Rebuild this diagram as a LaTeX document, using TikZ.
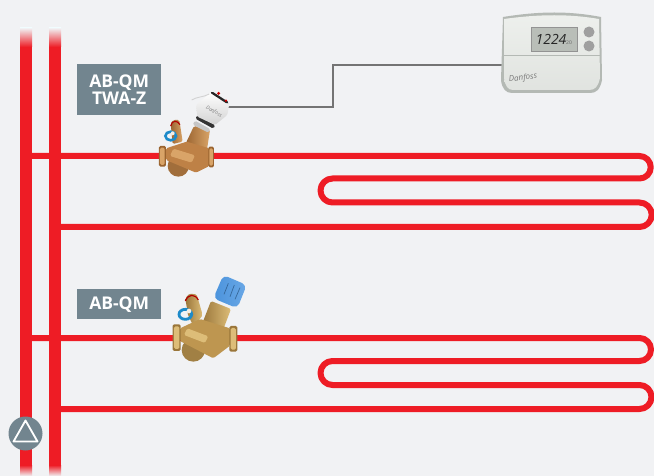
\documentclass[tikz,border=0pt]{standalone}
\usepackage{fontspec}
\setmainfont{Open Sans}
\definecolor{bg}{HTML}{F1F2F4}
\definecolor{pipe}{HTML}{EE1C25}
\definecolor{slate}{HTML}{72858F}
\definecolor{wire}{HTML}{747474}
\definecolor{brz}{HTML}{BE8146}
\definecolor{brzd}{HTML}{9A6430}
\definecolor{brzl}{HTML}{D9A468}
\definecolor{brs}{HTML}{BE9650}
\definecolor{brsd}{HTML}{9A763A}
\definecolor{brsl}{HTML}{DDBD78}
\definecolor{capblue}{HTML}{4B93DC}
\definecolor{capbluel}{HTML}{6AA8E6}
\definecolor{loopblue}{HTML}{1C8AC9}
\definecolor{thbody}{HTML}{E9ECE8}
\definecolor{thedge}{HTML}{B4B9B4}
\definecolor{lcdfill}{HTML}{B9BEB8}
\tikzset{
 main/.style={draw=pipe,line width=12pt},
 loopline/.style={draw=pipe,line width=6pt,line join=round},
 tag/.style={fill=slate,text=white,font=\bfseries\fontsize{17.5}{16.5}\selectfont,align=center,inner sep=0pt,anchor=north west},
 wireline/.style={draw=wire,line width=2.8pt},
 zoomed/.style={x=0.3333pt,y=-0.3333pt,rounded corners=1.5pt},
}
\begin{document}
\begin{tikzpicture}[x=1pt,y=-1pt]
\useasboundingbox (0,0) rectangle (654,476);
\fill[bg] (0,0) rectangle (654,476);
% risers
\foreach \x in {26,55}{
 \shade[top color=bg,bottom color=pipe] (\x-6,28) rectangle (\x+6,47);
 \draw[main] (\x,47) -- (\x,465);
 \shade[top color=pipe,bottom color=bg] (\x-6,465) rectangle (\x+6,476);
}
% serpentines
\coordinate (a1) at (26,156);
\coordinate (a2) at (55,227);
\draw[loopline] (a1) -- (639.5,156) arc[start angle=-90,end angle=90,radius=11.25] -- (332.5,178.5)
  arc[start angle=270,end angle=90,radius=12] -- (639.5,202.5) arc[start angle=-90,end angle=90,radius=12.25] -- (a2);
\coordinate (b1) at (26,338);
\coordinate (b2) at (55,409);
\draw[loopline] (b1) -- (639.5,338) arc[start angle=-90,end angle=90,radius=11.5] -- (332.5,361)
  arc[start angle=270,end angle=90,radius=12] -- (639.5,385) arc[start angle=-90,end angle=90,radius=12] -- (b2);
% labels
\node[tag,minimum width=84pt,minimum height=51pt] (tag1) at (77,64) {AB-QM\\TWA-Z};
\node[tag,minimum width=84pt,minimum height=30pt] (tag2) at (77,289) {AB-QM};
% wire
\coordinate (act) at (226,107);
\coordinate (w1) at (333,107);
\coordinate (w2) at (333,65);
\coordinate (th) at (503,65);
\draw[wireline] (act) -- (w1) -- (w2) -- (th);
% thermostat
\fill[thedge] (503,17) .. controls (540,11) and (570,11) .. (601,17) -- (602,80) .. controls (600,90) and (596,93) .. (590,93) -- (512,93) .. controls (506,93) and (502,89) .. (501,80) -- cycle;
\shade[top color=thbody!80!white,bottom color=thbody!92!gray] (504,19) .. controls (540,14) and (570,14) .. (599,19) -- (600,78) .. controls (598,87) and (595,90) .. (589,90) -- (513,90) .. controls (508,90) and (505,86) .. (504,78) -- cycle;
\draw[thedge,line width=.7pt] (504,55) -- (600,55);
\node[draw=gray!85,line width=.9pt,fill=lcdfill,minimum width=46pt,minimum height=24pt,inner sep=0pt] (lcd) at (554,39) {};
\node[font=\itshape\fontsize{14}{14}\selectfont,text=black!85,inner sep=0pt] (lcdtext) at (551,39.5) {1224};
\node[font=\fontsize{5}{5}\selectfont,text=black!60,inner sep=0pt] (lcdsub) at (569,43) {20};
\node[circle,fill=gray!75,minimum size=11pt,inner sep=0pt] (btn1) at (589,32) {};
\node[circle,fill=gray!75,minimum size=11pt,inner sep=0pt] (btn2) at (589,46) {};
\node[font=\itshape\fontsize{8}{8}\selectfont,text=gray!95!black,inner sep=0pt,rotate=6] (logo) at (523,78) {Danfoss};
% valve 1 (bronze), drawn in crop coordinates
\begin{scope}[shift={(140pt,-80pt)},zoomed]
 \fill[brz!85!black] (115,258) circle (32);
 \shade[left color=brzd,right color=brzl] (92,130) -- (100,120) -- (118,120) -- (128,185) -- (98,192) -- cycle;
 \draw[red!70!black,line width=1.1pt] (92,138) .. controls (96,120) and (112,120) .. (120,134);
 \shade[left color=brzd,right color=brzl] (135,195) -- (162,138) -- (210,150) -- (200,215) -- cycle;
 \fill[gray!45] (165,122) -- (212,148) -- (205,158) -- (158,134) -- cycle;
 \fill[brz] (78,205) -- (140,185) -- (208,205) -- (208,258) -- (168,278) -- (78,240) -- cycle;
 \fill[brzl] (100,206) -- (165,226) -- (155,248) -- (90,228) -- cycle;
 \fill[brzd] (57,198) rectangle (78,260);
 \fill[brzl] (60,203) rectangle (74,255);
 \fill[brzd] (205,200) rectangle (222,262);
 \fill[brzl] (208,205) rectangle (219,257);
 \draw[loopblue,line width=2.6pt] (92,168) ellipse (16 and 13);
 \fill[white!85!brz] (98,160) circle (6);
 \fill[black!80] (172,106) -- (226,136) -- (220,146) -- (166,116) -- cycle;
 \shade[top color=white,bottom color=gray!35] (168,75) -- (215,35) -- (268,70) -- (262,105) -- (225,135) -- (172,110) -- cycle;
 \fill[black!85] (210,38) -- (216,34) -- (267,67) -- (262,72) -- cycle;
 \fill[red!80!black] (236,40) circle (5);
 \fill[red!80!black] (258,62) circle (4);
 \node[font=\itshape\fontsize{5}{5}\selectfont,text=gray,rotate=-30,inner sep=0pt] (logo1) at (222,95) {Danfoss};
 \draw[gray!35,line width=.9pt] (155,60) .. controls (170,50) and (190,52) .. (208,42);
\end{scope}
% valve 2 (brass), drawn in crop coordinates
\begin{scope}[shift={(150pt,-265pt)},zoomed]
 \fill[brs!85!black] (130,255) circle (35);
 \shade[left color=brsd,right color=brsl] (106,100) -- (118,86) -- (140,88) -- (158,150) -- (132,186) -- (114,150) -- cycle;
 \draw[red!70!black,line width=1.2pt] (106,108) .. controls (115,86) and (135,86) .. (145,105);
 \shade[left color=brsd,right color=brsl] (155,180) -- (183,108) -- (243,132) -- (218,198) -- cycle;
 \fill[brs] (90,190) -- (150,162) -- (240,190) -- (240,242) -- (190,280) -- (90,228) -- cycle;
 \fill[brsl] (112,190) -- (175,214) -- (165,234) -- (102,210) -- cycle;
 \fill[brsd] (68,178) rectangle (92,258);
 \fill[brsl] (72,184) rectangle (88,252);
 \fill[brsd] (238,183) rectangle (262,260);
 \fill[brsl] (242,189) rectangle (258,254);
 \draw[loopblue,line width=2.8pt] (106,148) ellipse (19 and 15);
 \fill[white!85!brs] (117,138) circle (7);
 \shade[left color=capblue,right color=capbluel,rounded corners=5pt] (220,30) -- (290,60) -- (262,130) -- (190,100) -- cycle;
 \draw[capblue!70!black,line width=.7pt] (235,55) -- (222,88) (253,60) -- (240,95) (270,68) -- (255,103);
\end{scope}
% pump
\node[circle,fill=slate,minimum size=34pt,inner sep=0pt] (pump) at (25.5,433.500) {};
\coordinate (t1) at (25.5,420.500);
\coordinate (t2) at (13.5,441.500);
\coordinate (t3) at (37.5,441.500);
\draw[white,line width=1.8pt,line join=round] (t1) -- (t2) -- (t3) -- cycle;
\end{tikzpicture}
\end{document}
